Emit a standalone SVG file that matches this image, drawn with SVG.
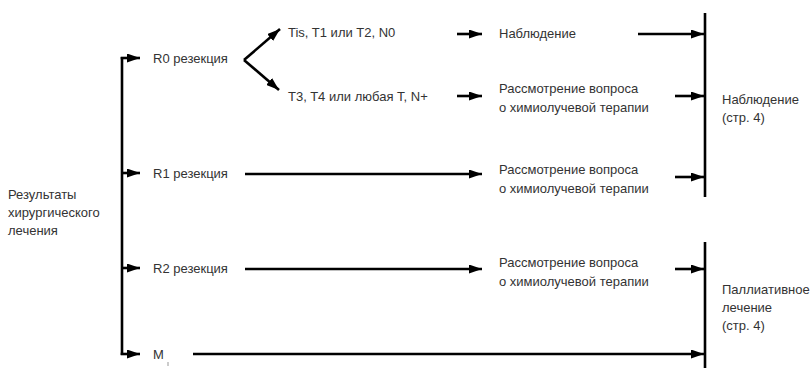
<svg xmlns="http://www.w3.org/2000/svg" width="812" height="368" viewBox="0 0 812 368">
<style>
text{font-family:"Liberation Sans","DejaVu Sans",sans-serif;font-size:13px;fill:#333}
.c{stroke:#000;stroke-width:2.6;fill:none}
.a{stroke:#000;stroke-width:2.6;fill:none;marker-end:url(#ah)}
</style>
<defs>
<marker id="ah" markerUnits="userSpaceOnUse" markerWidth="13" markerHeight="9" refX="13" refY="4.5" orient="auto">
<path d="M0,0 L13,4.5 L0,9 z" fill="#000"/>
</marker>
</defs>
<rect width="812" height="368" fill="#fff"/>
<g id="connectors">
<path class="c" d="M122,57 V355"/>
<path class="a" d="M120.7,58 H140"/>
<path class="a" d="M122,173 H140"/>
<path class="a" d="M122,268 H140"/>
<path class="a" d="M120.7,354 H140"/>
<path class="a" d="M244,60 L280,29"/>
<path class="a" d="M244,60 L279,90"/>
<path class="a" d="M457,34 H482"/>
<path class="a" d="M638,34 H704"/>
<path class="a" d="M457,96 H482"/>
<path class="a" d="M675,96 H704"/>
<path class="a" d="M245,174 H482"/>
<path class="a" d="M675,177 H704"/>
<path class="a" d="M245,269 H482"/>
<path class="a" d="M675,269 H704"/>
<path class="a" d="M193,354 H704"/>
<path class="c" d="M705,13 V197" stroke-width="3"/>
<path class="c" d="M705,242 V368" stroke-width="3"/>
<path d="M168,362 V366" stroke="#999" stroke-width="1"/>
</g>
<g id="start"><text x="8" y="199">Результаты</text><text x="8" y="217">хирургического</text><text x="8" y="235">лечения</text></g>
<g id="r0"><text x="153" y="63">R0 резекция</text></g>
<g id="r1"><text x="153" y="178">R1 резекция</text></g>
<g id="r2"><text x="153" y="273">R2 резекция</text></g>
<g id="m"><text x="153" y="359">M</text></g>
<g id="t1"><text x="288" y="37">Tis, T1 или  T2, N0</text></g>
<g id="t3"><text x="288" y="101">T3, T4 или любая T, N+</text></g>
<g id="obs1"><text x="499" y="38">Наблюдение</text></g>
<g id="chemo1"><text x="499" y="93">Рассмотрение вопроса</text><text x="499" y="112">о химиолучевой терапии</text></g>
<g id="chemo2"><text x="499" y="174">Рассмотрение вопроса</text><text x="499" y="193">о химиолучевой терапии</text></g>
<g id="chemo3"><text x="499" y="267">Рассмотрение вопроса</text><text x="499" y="286">о химиолучевой терапии</text></g>
<g id="obs2"><text x="722" y="104">Наблюдение</text><text x="722" y="122">(стр. 4)</text></g>
<g id="pall"><text x="722" y="294">Паллиативное</text><text x="722" y="312">лечение</text><text x="722" y="330">(стр. 4)</text></g>
</svg>
